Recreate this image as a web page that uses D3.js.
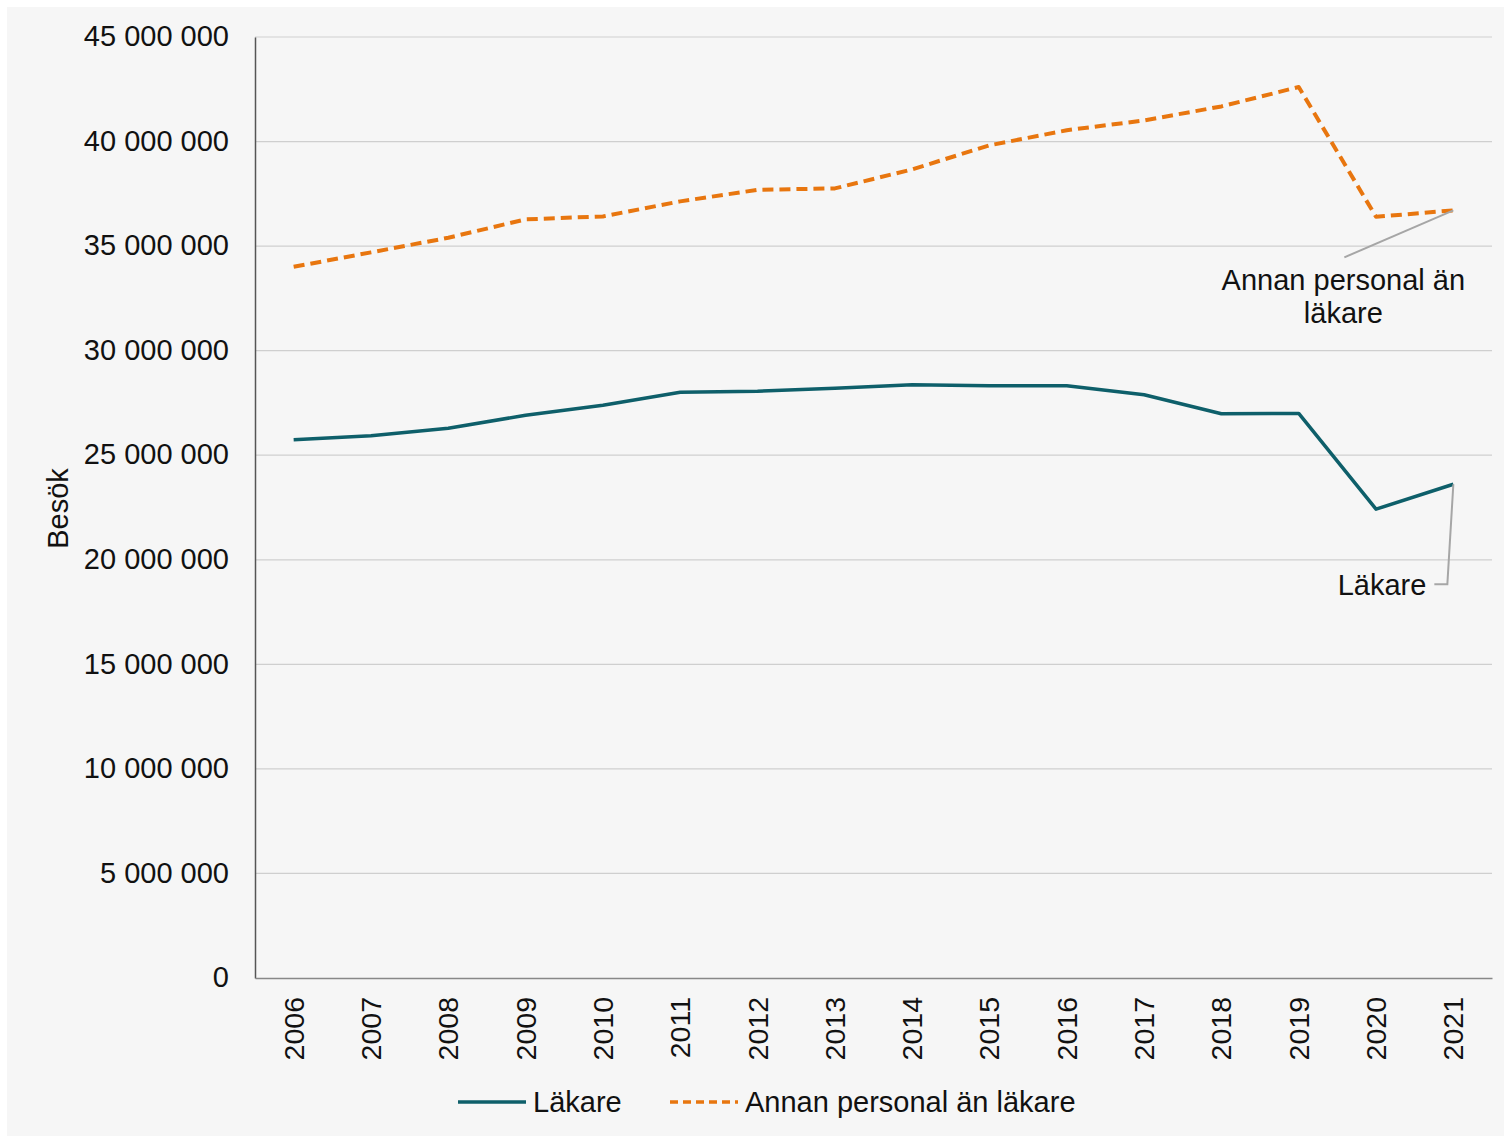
<!DOCTYPE html>
<html>
<head>
<meta charset="utf-8">
<script src="https://cdn.jsdelivr.net/npm/d3@7"></script>
<style>
  body { margin: 0; background: #fff; }
  text { font-family: "Liberation Sans", Arial, sans-serif; fill: #111; }
</style>
</head>
<body>
<div id="chart"></div>
<script>
// data
const years = ['2006', '2007', '2008', '2009', '2010', '2011', '2012', '2013',
  '2014', '2015', '2016', '2017', '2018', '2019', '2020', '2021']
const lakare = [25740000, 25930000, 26290000, 26910000, 27390000, 28010000, 28060000, 28200000,
  28370000, 28320000, 28320000, 27890000, 26980000, 27000000, 22420000, 23610000]
const annan = [34010000, 34700000, 35400000, 36280000, 36420000, 37140000, 37690000, 37760000,
  38670000, 39820000, 40540000, 41010000, 41680000, 42610000, 36400000, 36710000]
const yTicks = [0, 5000000, 10000000, 15000000, 20000000, 25000000, 30000000, 35000000, 40000000, 45000000]
const seriesNames = ['Läkare', 'Annan personal än läkare']

const W = 1504
const H = 1138
const margin = {top: 37, right: 12, bottom: 160, left: 255}
const teal = '#0e5f6a'
const orange = '#e8760f'
const fs = '29px'

const svg = d3.select('#chart').append('svg')
    .attr('width', W)
    .attr('height', H)

// light panel behind everything
svg.append('rect')
    .attr('x', 7).attr('y', 7)
    .attr('width', W - 7).attr('height', H - 9)
    .attr('fill', '#f6f6f6')

const x = d3.scaleBand()
    .domain(years)
    .range([margin.left, W - margin.right])
const y = d3.scaleLinear()
    .domain([0, 45000000])
    .range([H - margin.bottom, margin.top])

const fmt = v => d3.format(',')(v).replace(/,/g, ' ')

// gridlines
svg.append('g')
  .selectAll('line')
  .data(yTicks.filter(d => d > 0))
  .enter().append('line')
    .attr('x1', margin.left)
    .attr('x2', W - margin.right)
    .attr('y1', d => y(d))
    .attr('y2', d => y(d))
    .attr('stroke', '#cfcfcf')
    .attr('stroke-width', 1.2)

// y axis
const yAxis = svg.append('g')
    .attr('transform', 'translate(' + margin.left + ',0)')
    .call(d3.axisLeft(y).tickValues(yTicks).tickFormat(fmt).tickSize(0).tickPadding(26))
yAxis.select('.domain').attr('stroke', '#555').attr('stroke-width', 1.5)
yAxis.selectAll('text')
    .style('font-size', fs)
    .attr('dy', '0.3em')

// x axis
const xAxis = svg.append('g')
    .attr('transform', 'translate(0,' + y(0) + ')')
    .call(d3.axisBottom(x).tickSize(0))
xAxis.select('.domain').attr('stroke', '#888').attr('stroke-width', 1.5)
xAxis.selectAll('text')
    .style('font-size', '28.5px')
    .attr('y', 0)
    .attr('x', -19)
    .attr('dy', '.35em')
    .attr('transform', 'rotate(-90)')
    .style('text-anchor', 'end')

// y axis title
svg.append('text')
    .attr('transform', 'translate(68,' + (y(22500000) + 1) + ')rotate(-90)')
    .style('text-anchor', 'middle')
    .style('font-size', fs)
    .text('Besök')

const cx = d => x(d) + x.bandwidth() / 2
const line = d3.line()
    .x(d => cx(d.year))
    .y(d => y(d.value))

const lakData = years.map((yr, i) => ({year: yr, value: lakare[i]}))
const annData = years.map((yr, i) => ({year: yr, value: annan[i]}))

svg.append('path')
    .datum(lakData)
    .attr('d', line)
    .attr('fill', 'none')
    .attr('stroke', teal)
    .attr('stroke-width', 3.5)
    .attr('stroke-linejoin', 'round')

svg.append('path')
    .datum(annData)
    .attr('d', line)
    .attr('fill', 'none')
    .attr('stroke', orange)
    .attr('stroke-width', 4)
    .attr('stroke-dasharray', '11,6')
    .attr('stroke-linejoin', 'round')

// data labels with leader lines
const last = years.length - 1
const lx = cx(years[last])

svg.append('line')
    .attr('x1', lx).attr('y1', y(annan[last]))
    .attr('x2', lx - 109).attr('y2', y(annan[last]) + 47)
    .attr('stroke', '#a6a6a6').attr('stroke-width', 2)
svg.append('text')
    .attr('x', lx - 110).attr('y', y(annan[last]) + 80)
    .style('text-anchor', 'middle')
    .style('font-size', fs)
    .text('Annan personal än')
svg.append('text')
    .attr('x', lx - 110).attr('y', y(annan[last]) + 113)
    .style('text-anchor', 'middle')
    .style('font-size', fs)
    .text('läkare')

svg.append('polyline')
    .attr('points', [[lx, y(lakare[last])], [lx - 6, y(lakare[last]) + 100], [lx - 19, y(lakare[last]) + 100]].join(' '))
    .attr('fill', 'none')
    .attr('stroke', '#a6a6a6').attr('stroke-width', 2)
svg.append('text')
    .attr('x', lx - 27).attr('y', y(lakare[last]) + 111)
    .style('text-anchor', 'end')
    .style('font-size', fs)
    .text('Läkare')

// legend
const legend = svg.append('g').attr('transform', 'translate(0,1102)')
const items = [
  {name: seriesNames[0], color: teal, dash: null, x: 458},
  {name: seriesNames[1], color: orange, dash: '8,5', x: 670}
]
items.forEach(it => {
  legend.append('line')
      .attr('x1', it.x).attr('x2', it.x + 68)
      .attr('y1', 0).attr('y2', 0)
      .attr('stroke', it.color)
      .attr('stroke-width', 3.5)
      .attr('stroke-dasharray', it.dash)
  legend.append('text')
      .attr('x', it.x + 75).attr('y', 10)
      .style('font-size', fs)
      .text(it.name)
})
</script>
</body>
</html>
